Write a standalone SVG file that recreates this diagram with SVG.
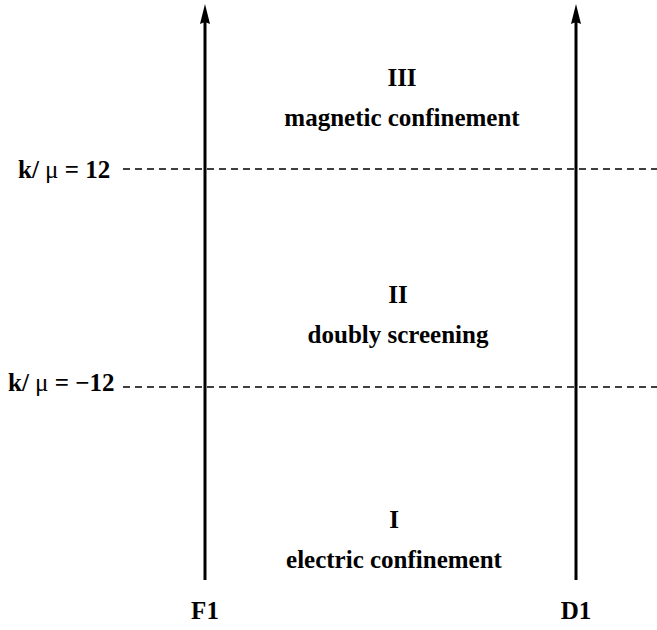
<svg xmlns="http://www.w3.org/2000/svg" width="657" height="630" viewBox="0 0 657 630">
<style>
.axis{stroke:#000;stroke-width:3;fill:none}
.dash{stroke:#000;stroke-width:1.3;stroke-dasharray:7 5;fill:none}
.head{fill:#000}
</style>
<g id="connectors">
<line class="axis" x1="205" y1="580" x2="205" y2="20"/>
<path class="head" d="M205 4 L210 24 L205 22 L200 24 Z"/>
<line class="axis" x1="576" y1="580" x2="576" y2="20"/>
<path class="head" d="M576 4 L581 24 L576 22 L571 24 Z"/>
<line class="dash" x1="123" y1="169" x2="657" y2="169"/>
<line class="dash" x1="123" y1="387" x2="657" y2="387"/>
</g>
<g font-family="Liberation Serif, Times New Roman, serif" font-weight="bold" font-size="25" fill="#000">
<g id="label-k12"><text x="18" y="178">k/ <tspan font-weight="normal">μ</tspan> = 12</text></g>
<g id="label-km12"><text x="8" y="391">k/ <tspan font-weight="normal">μ</tspan> = −12</text></g>
<g id="region-III" text-anchor="middle"><text x="402" y="86">III</text><text x="402" y="126">magnetic confinement</text></g>
<g id="region-II" text-anchor="middle"><text x="398" y="303">II</text><text x="398" y="343">doubly screening</text></g>
<g id="region-I" text-anchor="middle"><text x="394" y="528">I</text><text x="394" y="568">electric confinement</text></g>
<g id="F1" text-anchor="middle"><text x="205" y="619">F1</text></g>
<g id="D1" text-anchor="middle"><text x="576" y="619">D1</text></g>
</g>
</svg>
